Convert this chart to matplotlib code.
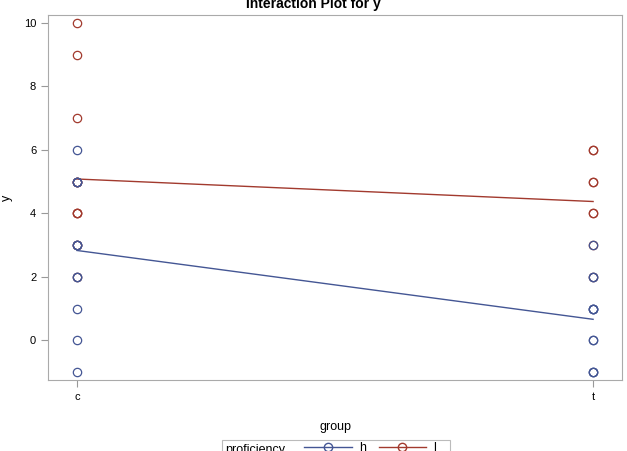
import numpy as np
import matplotlib.pyplot as plt
from matplotlib.lines import Line2D
from matplotlib.patches import Rectangle

plt.rcParams['font.family'] = ['Liberation Sans', 'DejaVu Sans']

groups = ["c", "t"]
levels = ["h", "l"]
y_h_c = [6, 5, 5, 5, 3, 3, 3, 2, 2, 1, 0, -1]
y_h_t = [3, 2, 2, 1, 1, 1, 1, 0, 0, -1, -1, -1]
y_l_c = [10, 9, 7, 5, 4, 3, 4, 3, 2, 4, 5, 5]
y_l_t = [6, 6, 5, 5, 4, 4, 3, 2]

blue = "#445694"
red = "#A23A2E"

fig = plt.figure(figsize=(6.27, 4.51), dpi=100)
ax = fig.add_axes([0.0766, 0.157, 0.9154, 0.81])

data = {"h": (y_h_c, y_h_t, blue), "l": (y_l_c, y_l_t, red)}
for lev in ["l", "h"]:
    yc, yt, col = data[lev]
    ax.plot([0] * len(yc), yc, "o", mfc="none", mec=col, ms=6, mew=0.9)
    ax.plot([1] * len(yt), yt, "o", mfc="none", mec=col, ms=6, mew=0.9)
    ax.plot([0, 1], [np.mean(yc), np.mean(yt)], color=col, lw=1)

ax.set_xlim(-0.0562, 1.056)
ax.set_ylim(-1.25, 10.25)
ax.set_xticks([0, 1])
ax.set_xticklabels(groups)
ax.set_yticks([0, 2, 4, 6, 8, 10])
ax.tick_params(labelsize=8, color="#999999", length=5)
for s in ax.spines.values():
    s.set_color("#aaaaaa")
ax.set_xlabel("group", fontsize=9, labelpad=14)
ax.set_ylabel("y", fontsize=9, labelpad=8)

fig.text(0.5, 0.992, "Interaction Plot for y", ha="center", va="center",
         fontsize=10, fontweight="bold")

# legend box at the bottom (cut by the image edge, as in the original)
fig.add_artist(Rectangle((222 / 627, -0.05), 228 / 627, 0.05 + 11 / 451,
                         transform=fig.transFigure, fill=False,
                         edgecolor="#bbbbbb", lw=0.8))
fig.text(225 / 627, -2 / 451, "proficiency", ha="left", va="baseline", fontsize=9)
handles = [Line2D([], [], color=blue, marker="o", mfc="none", mec=blue, lw=1, ms=6),
           Line2D([], [], color=red, marker="o", mfc="none", mec=red, lw=1, ms=6)]
fig.legend(handles, levels, ncol=2, loc="upper left",
           bbox_to_anchor=(304 / 627, 9 / 451), fontsize=9, handlelength=3.8,
           frameon=False, borderaxespad=0, borderpad=0, columnspacing=1.0,
           handletextpad=0.6)

fig.savefig("out.png", dpi=100)
